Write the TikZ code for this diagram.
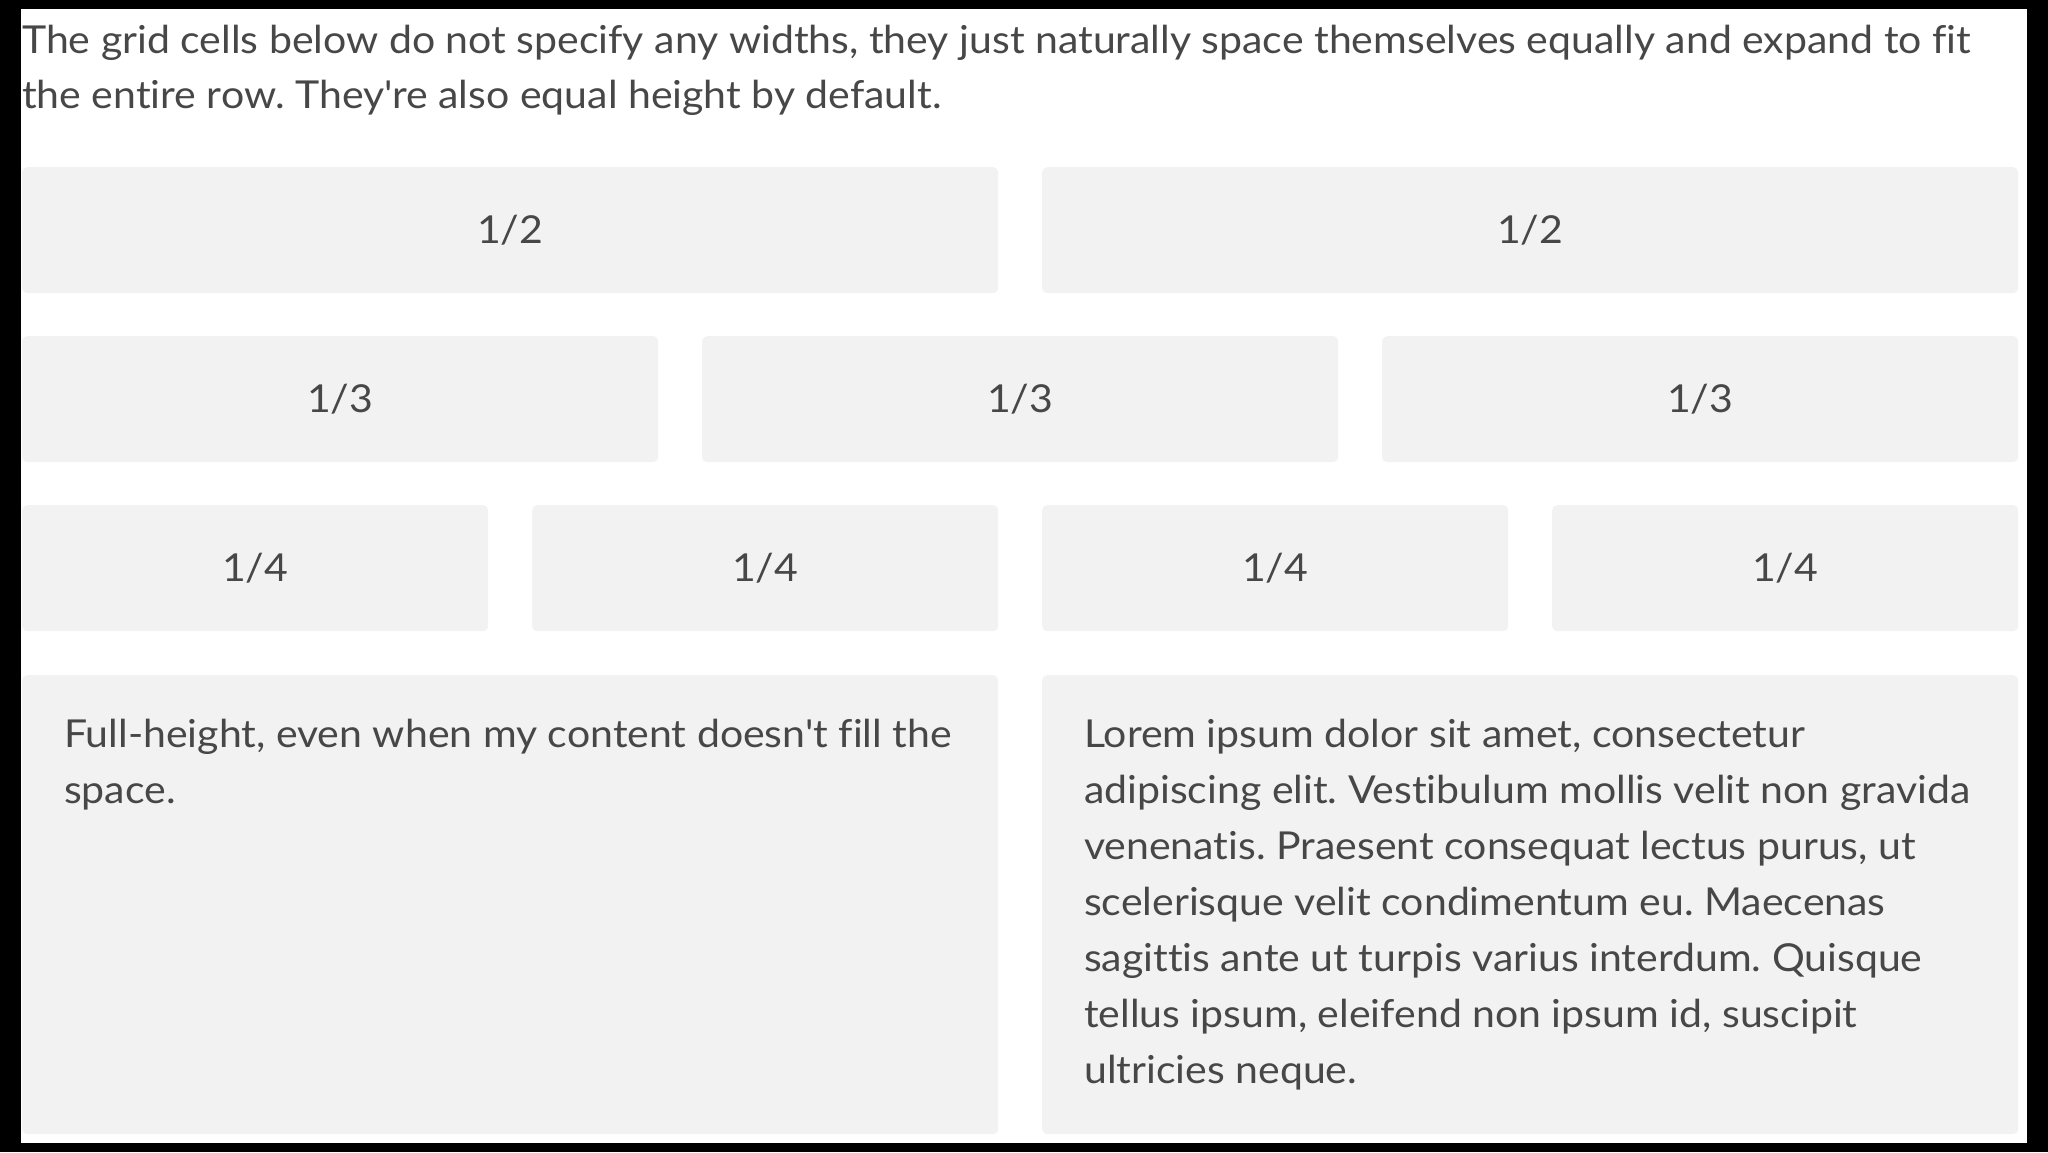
\documentclass[tikz,border=0pt]{standalone}
\usepackage{fontspec}
\setmainfont{Lato}[FakeStretch=1.065, Ligatures={NoCommon}]
\definecolor{cellbg}{HTML}{F2F2F2}
\definecolor{ink}{HTML}{474747}
\frenchspacing
\begin{document}
\begin{tikzpicture}[x=1pt,y=-1pt,
  cell/.style={fill=cellbg, rounded corners=5pt, anchor=north west, inner sep=0pt,
    text=ink, font=\fontsize{38.5}{56}\selectfont, text height=27.5pt, text depth=0pt},
  line/.style={anchor=base west, inner sep=0pt, text=ink, font=\fontsize{38.5}{56}\selectfont}]
\fill[black] (0,0) rectangle (2048,1152);
\fill[white] (21,9) rectangle (2027,1143);
\useasboundingbox (0,0) rectangle (2048,1152);
% header
\node[line] (hd1) at (22,53) {The grid cells below do not specify any widths, they just naturally space themselves equally and expand to fit};
\node[line] (hd2) at (22,108) {the entire row. They\textquotesingle re also equal height by default.};
% row of halves
\node[cell, minimum width=976pt, minimum height=126pt] (h1) at (22,167) {1/2};
\node[cell, minimum width=976pt, minimum height=126pt] (h2) at (1042,167) {1/2};
% row of thirds
\node[cell, minimum width=636pt, minimum height=126pt] (t1) at (22,336) {1/3};
\node[cell, minimum width=636pt, minimum height=126pt] (t2) at (702,336) {1/3};
\node[cell, minimum width=636pt, minimum height=126pt] (t3) at (1382,336) {1/3};
% row of quarters
\node[cell, minimum width=466pt, minimum height=126pt] (q1) at (22,505) {1/4};
\node[cell, minimum width=466pt, minimum height=126pt] (q2) at (532,505) {1/4};
\node[cell, minimum width=466pt, minimum height=126pt] (q3) at (1042,505) {1/4};
\node[cell, minimum width=466pt, minimum height=126pt] (q4) at (1552,505) {1/4};
% full-height row
\node[cell, minimum width=976pt, minimum height=459pt] (f1) at (22,675) {};
\node[cell, minimum width=976pt, minimum height=459pt] (f2) at (1042,675) {};
\node[line] (fa1) at (64,747) {Full-height, even when my content doesn\textquotesingle t fill the};
\node[line] (fa2) at (64,803) {space.};
\node[line] (fb1) at (1084,747) {Lorem ipsum dolor sit amet, consectetur};
\node[line] (fb2) at (1084,803) {adipiscing elit. Vestibulum mollis velit non gravida};
\node[line] (fb3) at (1084,859) {venenatis. Praesent consequat lectus purus, ut};
\node[line] (fb4) at (1084,915) {scelerisque velit condimentum eu. Maecenas};
\node[line] (fb5) at (1084,971) {sagittis ante ut turpis varius interdum. Quisque};
\node[line] (fb6) at (1084,1027) {tellus ipsum, eleifend non ipsum id, suscipit};
\node[line] (fb7) at (1084,1083) {ultricies neque.};
\end{tikzpicture}
\end{document}
